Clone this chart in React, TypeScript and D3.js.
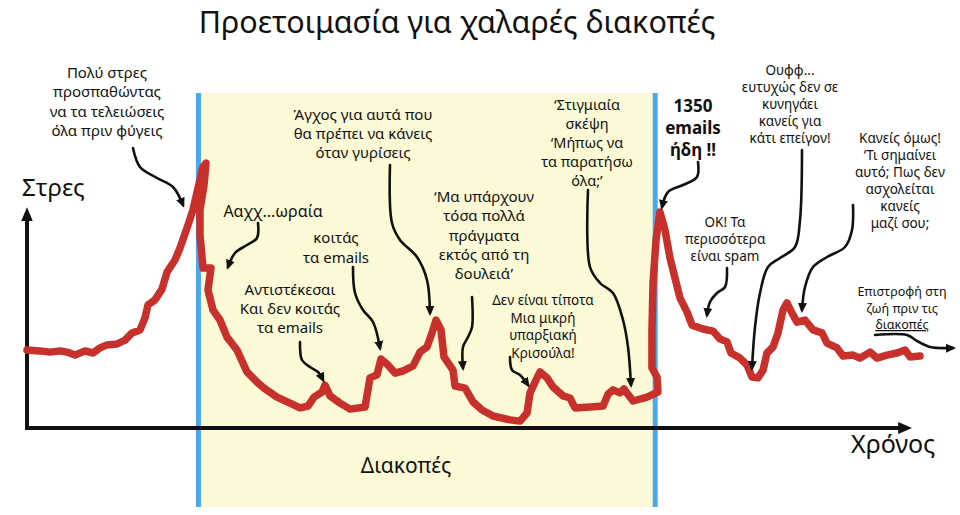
import React from "react";
import * as d3 from "d3";

// ---- data (time units 0..100, stress units 0..100) ----
const TIME = [
  0, 1.44, 2.56, 3.67, 4.44, 5.33, 6.44, 7.33, 8.11, 8.89, 10, 10.89, 11.67, 12.56, 13.11, 13.44, 14.22, 15, 15.56, 16.44,
  17, 17.78, 18.44, 19, 19.56, 19.89, 19.67, 19.22, 19.22, 19.56, 20.44, 20.11, 20.67, 21.44, 22.22, 23.33, 24.44, 25.56,
  26.33, 27.78, 29.22, 30.33, 31.22, 31.89, 32.78, 33.11, 33.67, 34.78, 35.89, 37.56, 38.11, 38.89, 39.33, 40, 40.89,
  41.78, 42.89, 43.67, 44.44, 45, 45.44, 46, 46.33, 47.33, 47.56, 48.67, 49.56, 50.56, 51.78, 53.67, 54.78, 55.56, 55.89,
  56.67, 57, 57.78, 58.44, 59.56, 60.33, 60.89, 62.56, 64, 64.56, 65.11, 65.89, 66.33, 67.33, 68.89, 70.11, 70, 69.44,
  69.44, 69.56, 69.89, 70.33, 70.89, 71.44, 72, 72.56, 73.33, 73.89, 75.11, 76.22, 77, 77.78, 78.22, 79.22, 80, 80.56,
  81.22, 81.78, 82.22, 82.89, 83.44, 84, 84.44, 85, 85.56, 86.44, 87.33, 88.33, 88.89, 90, 90.67, 91.78, 92.56, 93.67,
  94.44, 95.56, 96.67, 97.56, 98.11, 99.22,
];
const STRESS = [
  26, 25.7, 25.3, 25.7, 25.3, 24.3, 25.7, 25, 26.7, 27.7, 28, 29.3, 31.7, 32.7, 36.7, 41, 42.7, 46.3, 52, 56, 60, 66.7,
  72.7, 80, 87, 88.3, 81, 72.7, 64.3, 53.3, 53.3, 46, 39.3, 36, 30.3, 26, 18.7, 15.3, 13.3, 10.3, 8.3, 6.7, 7.3, 10.3,
  12, 14.3, 10.7, 8.3, 6.3, 7, 16.7, 17.7, 23, 21.3, 18.3, 19, 20.7, 25.3, 27, 31.7, 36, 32.7, 23.7, 19.3, 14, 13.3, 8.7,
  6, 4, 2.7, 2.3, 5, 11.7, 16.7, 18.7, 16.7, 13.7, 10.7, 10, 6.7, 7, 7.3, 11.3, 12.7, 11.7, 13, 9, 10.3, 12, 17, 20,
  32.7, 48.3, 62.7, 72, 66, 56.7, 50, 43.3, 38.7, 34.3, 33, 32.3, 29.7, 28.7, 25, 23.3, 21, 17, 16.7, 19.3, 25, 27,
  31.7, 39.3, 41.7, 38.3, 35.3, 36, 32.7, 31.7, 28.3, 26.7, 24, 24.3, 23.3, 25.3, 23.3, 24.3, 25, 26, 23.7, 24,
];
const VACATION = [19.05, 69.8];

const TITLE = "Προετοιμασία για χαλαρές διακοπές";
const Y_LABEL = "Στρες";
const X_LABEL = "Χρόνος";
const VACATION_LABEL = "Διακοπές";

type Note = {
  lines: string[];
  x: number;
  y: number;
  size: number;
  lh: number;
  bold?: boolean;
  underlineLast?: boolean;
  arrow: [number, number][];
};

const NOTES: Note[] = [
  { lines: ["Πολύ στρες", "προσπαθώντας", "να τα τελειώσεις", "όλα πριν φύγεις"], x: 107, y: 78, size: 15, lh: 19.3,
    arrow: [[133, 148], [140, 167], [157, 178], [173, 187], [183, 205]] },
  { lines: ["Ααχχ...ωραία"], x: 273, y: 217, size: 16, lh: 19,
    arrow: [[258, 223], [257, 238], [247, 245], [235, 253], [228, 267]] },
  { lines: ["Αντιστέκεσαι", "Και δεν κοιτάς", "τα emails"], x: 290, y: 295, size: 15, lh: 19,
    arrow: [[300, 342], [302, 360], [310, 367], [318, 372], [323, 380]] },
  { lines: ["κοιτάς", "τα emails"], x: 336, y: 243, size: 15, lh: 20,
    arrow: [[353, 267], [355, 293], [363, 310], [373, 322], [380, 348]] },
  { lines: ["Άγχος για αυτά που", "θα πρέπει να κάνεις", "όταν γυρίσεις"], x: 363, y: 120, size: 15, lh: 19,
    arrow: [[390, 165], [392, 223], [400, 240], [417, 257], [427, 280], [430, 313]] },
  { lines: ["‘Μα υπάρχουν", "τόσα πολλά", "πράγματα", "εκτός από τη", "δουλειά’"], x: 484, y: 202, size: 15, lh: 19.3,
    arrow: [[472, 297], [472, 327], [468, 337], [463, 347], [463, 368]] },
  { lines: ["Δεν είναι τίποτα", "Μια μικρή", "υπαρξιακή", "Κρισούλα!"], x: 543, y: 305, size: 13.5, lh: 17.5,
    arrow: [[510, 357], [512, 370], [520, 375], [528, 385]] },
  { lines: ["‘Στιγμιαία", "σκέψη", "‘Μήπως να", "τα παρατήσω", "όλα;’"], x: 587, y: 110, size: 14.5, lh: 19,
    arrow: [[588, 190], [590, 267], [600, 283], [613, 293], [623, 320], [628, 347], [631, 385]] },
  { lines: ["1350", "emails", "ήδη !!"], x: 693, y: 112, size: 17, lh: 22, bold: true,
    arrow: [[698, 162], [697, 177], [683, 185], [668, 192], [662, 207]] },
  { lines: ["OK! Τα", "περισσότερα", "είναι spam"], x: 725, y: 227, size: 13.5, lh: 17,
    arrow: [[727, 268], [725, 287], [717, 293], [710, 302], [707, 315]] },
  { lines: ["Ουφφ...", "ευτυχώς δεν σε", "κυνηγάει", "κανείς για", "κάτι επείγον!"], x: 790, y: 75, size: 13.5, lh: 17,
    arrow: [[802, 150], [800, 220], [795, 247], [780, 258], [768, 267], [760, 293], [755, 327], [752, 368]] },
  { lines: ["Κανείς όμως!", "‘Τι σημαίνει", "αυτό; Πως δεν", "ασχολείται", "κανείς", "μαζί σου;"], x: 900, y: 143, size: 13.5, lh: 17,
    arrow: [[853, 205], [852, 230], [845, 247], [827, 257], [813, 267], [805, 287], [802, 310]] },
  { lines: ["Επιστροφή στη", "ζωή πριν τις", "διακοπές"], x: 902, y: 296, size: 12.5, lh: 16.5, underlineLast: true,
    arrow: [[875, 335], [907, 335], [917, 341], [930, 347], [953, 348]] },
];

const FONT = "'Noto Sans', 'Open Sans', sans-serif";
const W = 960;
const H = 515;

export default function App() {
  const x = d3.scaleLinear().domain([0, 100]).range([27, 927]);
  const y = d3.scaleLinear().domain([0, 100]).range([428, 128]);

  const pts: [number, number][] = TIME.map((t, i) => [t, STRESS[i]]);
  const stressLine = d3
    .line<[number, number]>()
    .x((d) => x(d[0]))
    .y((d) => y(d[1]))
    .curve(d3.curveLinear)(pts) as string;

  const arrowLine = d3
    .line<[number, number]>()
    .x((d) => d[0])
    .y((d) => d[1])
    .curve(d3.curveCatmullRom.alpha(0.5));

  const vx0 = x(VACATION[0]);
  const vx1 = x(VACATION[1]);
  const axisTop = y(73.7);
  const axisRight = x(98.4);

  return (
    <svg
      width={W}
      height={H}
      viewBox={`0 0 ${W} ${H}`}
      style={{ position: "absolute", left: 0, top: 0, background: "#ffffff", display: "block" }}
    >
      <defs>
        <marker id="ah" viewBox="0 0 10 10" refX="7" refY="5" markerWidth="10" markerHeight="10" markerUnits="userSpaceOnUse" orient="auto">
          <path d="M0,0.5 L10,5 L0,9.5 Z" fill="#111" />
        </marker>
        <marker id="axh" viewBox="0 0 10 10" refX="6" refY="5" markerWidth="14" markerHeight="14" markerUnits="userSpaceOnUse" orient="auto">
          <path d="M0,0.8 L10,5 L0,9.2 Z" fill="#111" />
        </marker>
      </defs>
      <rect x={0} y={0} width={W} height={H} fill="#fff" />
      {/* vacation band */}
      <rect x={vx0} y={93} width={vx1 - vx0} height={414} fill="#fcfad6" />
      <line x1={vx0} x2={vx0} y1={93} y2={507} stroke="#4aa9ec" strokeWidth={5} />
      <line x1={vx1} x2={vx1} y1={93} y2={507} stroke="#4aa9ec" strokeWidth={5} />

      {/* axes */}
      <line x1={x(0)} x2={x(0)} y1={y(0) + 2} y2={axisTop + 6} stroke="#111" strokeWidth={4} markerEnd="url(#axh)" />
      <line x1={x(0) - 2} x2={axisRight - 6} y1={y(0)} y2={y(0)} stroke="#111" strokeWidth={4} markerEnd="url(#axh)" />

      {/* stress line */}
      <path d={stressLine} fill="none" stroke="#c8302b" strokeWidth={7.5} strokeLinejoin="round" strokeLinecap="round" />

      {/* annotations */}
      {NOTES.map((n, i) => (
        <g key={i}>
          <text
            x={n.x}
            y={n.y}
            textAnchor="middle"
            fontFamily={FONT}
            fontSize={n.size}
            fontWeight={n.bold ? 700 : 400}
            fill="#111"
          >
            {n.lines.map((l, j) => (
              <tspan
                key={j}
                x={n.x}
                y={n.y + j * n.lh}
                style={n.underlineLast && j === n.lines.length - 1 ? { textDecoration: "underline" } : undefined}
              >
                {l}
              </tspan>
            ))}
          </text>
          <path
            d={arrowLine(n.arrow) as string}
            fill="none"
            stroke="#111"
            strokeWidth={2.6}
            strokeLinecap="round"
            markerEnd="url(#ah)"
          />
        </g>
      ))}

      {/* labels */}
      <text x={457} y={33} textAnchor="middle" fontFamily={FONT} fontSize={30.5} fill="#111">
        {TITLE}
      </text>
      <text x={22} y={196} fontFamily={FONT} fontSize={24} fill="#111">
        {Y_LABEL}
      </text>
      <text x={851} y={453} fontFamily={FONT} fontSize={25} fill="#111">
        {X_LABEL}
      </text>
      <text x={406} y={473} textAnchor="middle" fontFamily={FONT} fontSize={21} fill="#111">
        {VACATION_LABEL}
      </text>
    </svg>
  );
}
